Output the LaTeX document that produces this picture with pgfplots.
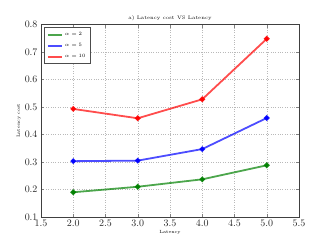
\documentclass[border=0pt]{standalone}
\usepackage{pgfplots}
\pgfplotsset{compat=1.18}
\begin{document}
\begin{tikzpicture}
\path[use as bounding box] (0,0) rectangle (332bp,249bp);
\begin{axis}[
  at={(41bp,32bp)}, anchor=south west,
  scale only axis, width=258bp, height=192.5bp,
  xmin=1.5, xmax=5.5, ymin=0.1, ymax=0.8,
  xtick={1.5,2,...,5.5}, ytick={0.1,0.2,...,0.8},
  xticklabel style={/pgf/number format/.cd,fixed,fixed zerofill,precision=1},
  yticklabel style={/pgf/number format/.cd,fixed,fixed zerofill,precision=1},
  tick label style={font=\normalsize, text=black!85},
  tick align=inside, axis line style={line width=0.8pt,black!75},
  major tick length=3bp,
  grid=major, grid style={dotted, gray!55, line width=0.4pt},
  title={a) Latency cost VS Latency}, title style={font=\fontsize{5}{6}\selectfont, yshift=-6bp},
  xlabel={Latency}, ylabel={Latency cost},
  xlabel style={font=\fontsize{4.5}{5}\selectfont, yshift=3bp},
  ylabel style={font=\fontsize{4.5}{5}\selectfont, yshift=-3bp},
  legend pos=north west,
  legend style={font=\fontsize{5}{6}\selectfont, draw=black!70, line width=0.8pt, inner sep=2.5pt, row sep=2.5pt, at={(0.012,0.985)}},
  legend cell align=left,
  legend image code/.code={\draw[line width=1.8pt, opacity=0.7] (0cm,0cm) -- (0.5cm,0cm);},
  every axis plot/.append style={line width=1.8pt, opacity=0.7, mark=*, mark size=1.8pt, mark options={opacity=0.9}},
]
\addplot[color={rgb,1:red,0;green,0.5;blue,0}] coordinates {(2,0.190) (3,0.210) (4,0.237) (5,0.288)};
\addlegendentry{$\alpha = 2$}
\addplot[color=blue] coordinates {(2,0.303) (3,0.305) (4,0.347) (5,0.460)};
\addlegendentry{$\alpha = 5$}
\addplot[color=red] coordinates {(2,0.493) (3,0.459) (4,0.528) (5,0.748)};
\addlegendentry{$\alpha = 10$}
\end{axis}
\end{tikzpicture}
\end{document}
